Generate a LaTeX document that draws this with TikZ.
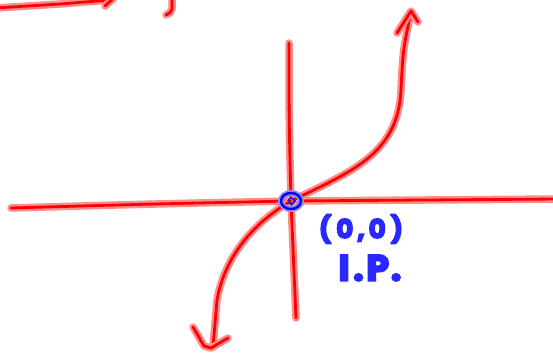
\documentclass[tikz,border=0pt]{standalone}
\usepackage{fontspec}
\newfontfamily\handfont[FakeBold=6]{Poppins}
\usetikzlibrary{calc}
\definecolor{inkblue}{RGB}{40,40,255}
\tikzset{
  pen/.style={draw=red, line width=2.8pt, line cap=round, line join=round,
    preaction={draw=red!45, line width=7.5pt, line cap=round, line join=round}},
  bpen/.style={draw=blue, line width=2.4pt,
    preaction={draw=blue!45, line width=6pt}},
  lbl/.style={text=inkblue, inner sep=0pt, font=\handfont\bfseries\fontsize{26}{26}\selectfont},
  biglbl/.style={text=inkblue, inner sep=0pt, font=\handfont\bfseries\fontsize{36}{36}\selectfont}
}
\begin{document}
\begin{tikzpicture}[x=1pt,y=-1pt]
\useasboundingbox (0,0) rectangle (553,354);
\coordinate (O) at (291,201);
% top-left partial strokes
\draw[pen] (-5,8) -- (60,4) -- (110,0);
\draw[pen] (105,6) .. controls (108,3) .. (114,-2);
\draw[pen] (172,-3) -- (172,9) .. controls (171,12) .. (166,15);
% axes
\draw[pen] (11,208) .. controls (150,204) .. (O) -- (558,199);
\draw[pen] (289,43) .. controls (289,120) .. (O) .. controls (293,260) .. (296,318);
% curve
\draw[pen] (O) .. controls (350,172) and (398,155) .. (401,90) .. controls (403,50) .. (411,12);
\draw[pen] (397,33) -- (411,11) -- (418,22);
\draw[pen] (O) .. controls (255,222) and (225,255) .. (217,300) -- (213,347);
\draw[pen] (193,327) -- (204,346) -- (211,348) -- (228,338);
% point
\draw[bpen] (O) ellipse (10pt and 8pt);
\draw[blue, line width=1.5pt] ($(O)+(-3,0)$) .. controls ($(O)+(0,-4)$) .. ($(O)+(4,0)$) .. controls ($(O)+(0,4)$) .. ($(O)+(-2,1)$);
% labels
\node[lbl] (pt) at (361,229) {(\hspace{5pt}0\hspace{4pt},\hspace{4pt}0\hspace{5pt})};
\node[biglbl] (ip) at (370,268) {I\hspace{4pt}.\hspace{3pt}P\hspace{2pt}.};
\end{tikzpicture}
\end{document}
